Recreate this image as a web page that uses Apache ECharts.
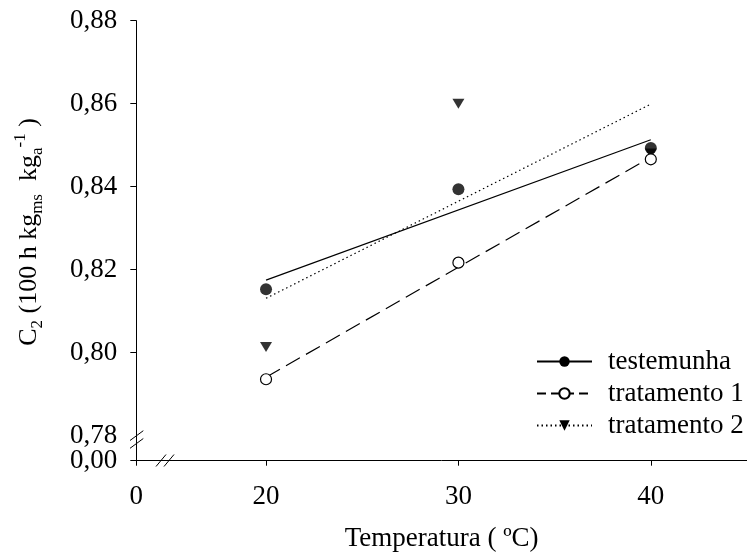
<!DOCTYPE html>
<html>
<head>
<meta charset="utf-8">
<script src="https://cdn.jsdelivr.net/npm/echarts@6/dist/echarts.min.js"></script>
<style>
html,body{margin:0;padding:0;background:#fff;}
#chart{width:747px;height:560px;}
</style>
</head>
<body>
<div id="chart"></div>
<script>
// ---- data ----
var temps = [20, 30, 40];
var testemunha = [0.8153, 0.8394, 0.8493];
var tratamento1 = [0.7936, 0.8217, 0.8466];
var tratamento2 = [0.8014, 0.8600, 0.8480];
var fitX = [20, 40];
var fitTestemunha = [0.8175, 0.8513];
var fitTratamento1 = [0.7941, 0.8471];
var fitTratamento2 = [0.8131, 0.8599];
var seriesNames = ['testemunha', 'tratamento 1', 'tratamento 2'];
var xTickLabels = ['0', '20', '30', '40'];
var yTickLabels = ['0,00', '0,78', '0,80', '0,82', '0,84', '0,86', '0,88'];
var xTickValues = [20, 30, 40];
var yTickValues = [0.78, 0.80, 0.82, 0.84, 0.86, 0.88];

// broken-axis positions (where the "0" / "0,00" of the break sits)
var xBreakVal = 13.257;
var yBreakVal = 0.773976;

var FONT = "'Liberation Serif','Times New Roman',serif";
var FS = 27;

function pairs(xs, ys) { return xs.map(function (x, i) { return [x, ys[i]]; }); }

function yLabel(v) {
  if (Math.abs(v - yBreakVal) < 1e-6) return yTickLabels[0];
  for (var i = 0; i < yTickValues.length; i++) {
    if (Math.abs(v - yTickValues[i]) < 1e-6) return yTickLabels[i + 1];
  }
  return '';
}

var chart = echarts.init(document.getElementById('chart'), null, {renderer: 'canvas'});

var axisLine = {show: true, lineStyle: {color: '#000', width: 1}};

var option = {
  animation: false,
  backgroundColor: '#fff',
  grid: {left: 136.3, right: 0, top: 20.7, bottom: 99.3, containLabel: false},
  xAxis: {
    type: 'value', min: xBreakVal, max: 45,
    axisLine: axisLine,
    splitLine: {show: false},
    axisTick: {show: true, length: 5, lineStyle: {color: '#000'},
      customValues: [xBreakVal].concat(xTickValues)},
    axisLabel: {
      customValues: [xBreakVal].concat(xTickValues),
      hideOverlap: false, showMinLabel: true, showMaxLabel: true,
      margin: 23, color: '#000', fontSize: FS, fontFamily: FONT,
      formatter: function (v) {
        if (Math.abs(v - xBreakVal) < 1e-6) return xTickLabels[0];
        var i = xTickValues.indexOf(Math.round(v));
        return xTickLabels[i + 1];
      }
    },
    name: 'Temperatura ( ºC)', nameLocation: 'middle', nameGap: 65,
    nameTextStyle: {color: '#000', fontSize: FS, fontFamily: FONT}
  },
  yAxis: [{
    type: 'value', min: yBreakVal, max: 0.88, position: 'left',
    axisLine: axisLine,
    splitLine: {show: false},
    axisTick: {show: true, length: 6, lineStyle: {color: '#000'},
      customValues: [yBreakVal, 0.80, 0.82, 0.84, 0.86, 0.88]},
    axisLabel: {
      customValues: [yBreakVal].concat(yTickValues.slice(1)),
      hideOverlap: false, showMinLabel: true, showMaxLabel: true,
      margin: 19, color: '#000', fontSize: FS, fontFamily: FONT,
      formatter: yLabel
    }
  }, {
    // second copy of the same scale, only to print the "0,78" label next to the break
    type: 'value', min: yBreakVal, max: 0.88, position: 'left', offset: 0,
    axisLine: {show: false}, axisTick: {show: false}, splitLine: {show: false},
    axisLabel: {
      customValues: [yTickValues[0]],
      hideOverlap: false, showMinLabel: true, showMaxLabel: true,
      margin: 19, color: '#000', fontSize: FS, fontFamily: FONT,
      formatter: yLabel
    }
  }],
  legend: {
    orient: 'vertical', left: 531, top: 343,
    itemWidth: 55, itemHeight: 13, itemGap: 5,
    data: [
      {name: seriesNames[0]},
      {name: seriesNames[1], lineStyle: {type: [9, 5]}},
      {name: seriesNames[2], lineStyle: {type: [1.5, 3]}}
    ],
    textStyle: {color: '#000', fontSize: FS, fontFamily: FONT, padding: [0, 0, 0, 11]}
  },
  graphic: [
    {type: 'text', x: 29, y: 232, rotation: Math.PI / 2,
      style: {
        text: '{n|C}{sub|2}{n| (100 h kg}{sub|ms}{n|  kg}{sub|a}{sup|-1}{n| )}',
        align: 'center', verticalAlign: 'middle', fill: '#000',
        rich: {
          n: {fontSize: 26, fontFamily: FONT, lineHeight: 34, fill: '#000'},
          sub: {fontSize: 17, fontFamily: FONT, lineHeight: 14, verticalAlign: 'bottom', fill: '#000'},
          sup: {fontSize: 17, fontFamily: FONT, lineHeight: 14, verticalAlign: 'top', fill: '#000'}
        }
      }
    },
    // y-axis break marks
    {type: 'line', shape: {x1: 130, y1: 440.5, x2: 143.3, y2: 430.7}, style: {stroke: '#000', lineWidth: 1}},
    {type: 'line', shape: {x1: 130, y1: 448.3, x2: 143.3, y2: 438.5}, style: {stroke: '#000', lineWidth: 1}},
    // x-axis break marks
    {type: 'line', shape: {x1: 156, y1: 466.5, x2: 166, y2: 454.5}, style: {stroke: '#000', lineWidth: 1}},
    {type: 'line', shape: {x1: 164, y1: 466.5, x2: 174, y2: 454.5}, style: {stroke: '#000', lineWidth: 1}}
  ],
  series: [
    {name: seriesNames[0], type: 'line', data: pairs(fitX, fitTestemunha),
      showSymbol: false, symbol: 'circle', z: 2,
      lineStyle: {color: '#000', width: 1.2, type: 'solid'},
      itemStyle: {color: '#000'}},
    {name: seriesNames[1], type: 'line', data: pairs(fitX, fitTratamento1),
      showSymbol: false, symbol: 'circle', z: 2,
      lineStyle: {color: '#000', width: 1.2, type: [16, 7]},
      itemStyle: {color: '#fff', borderColor: '#000', borderWidth: 1.2}},
    {name: seriesNames[2], type: 'line', data: pairs(fitX, fitTratamento2),
      showSymbol: false, symbol: 'triangle', symbolRotate: 180, z: 2,
      lineStyle: {color: '#000', width: 1.2, type: [1.5, 3]},
      itemStyle: {color: '#000'}},
    {name: 'pts-t2', type: 'scatter', data: pairs(temps, tratamento2),
      symbol: 'triangle', symbolRotate: 180, symbolSize: [12, 10], z: 3,
      itemStyle: {color: '#000'}},
    {name: 'pts-t1', type: 'scatter', data: pairs(temps, tratamento1),
      symbol: 'circle', symbolSize: 11, z: 4,
      itemStyle: {color: '#fff', borderColor: '#000', borderWidth: 1.2, opacity: 1}},
    {name: 'pts-t0', type: 'scatter', data: pairs(temps, testemunha),
      symbol: 'circle', symbolSize: 12, z: 5,
      itemStyle: {color: '#000'}}
  ]
};
chart.setOption(option);
</script>
</body>
</html>
